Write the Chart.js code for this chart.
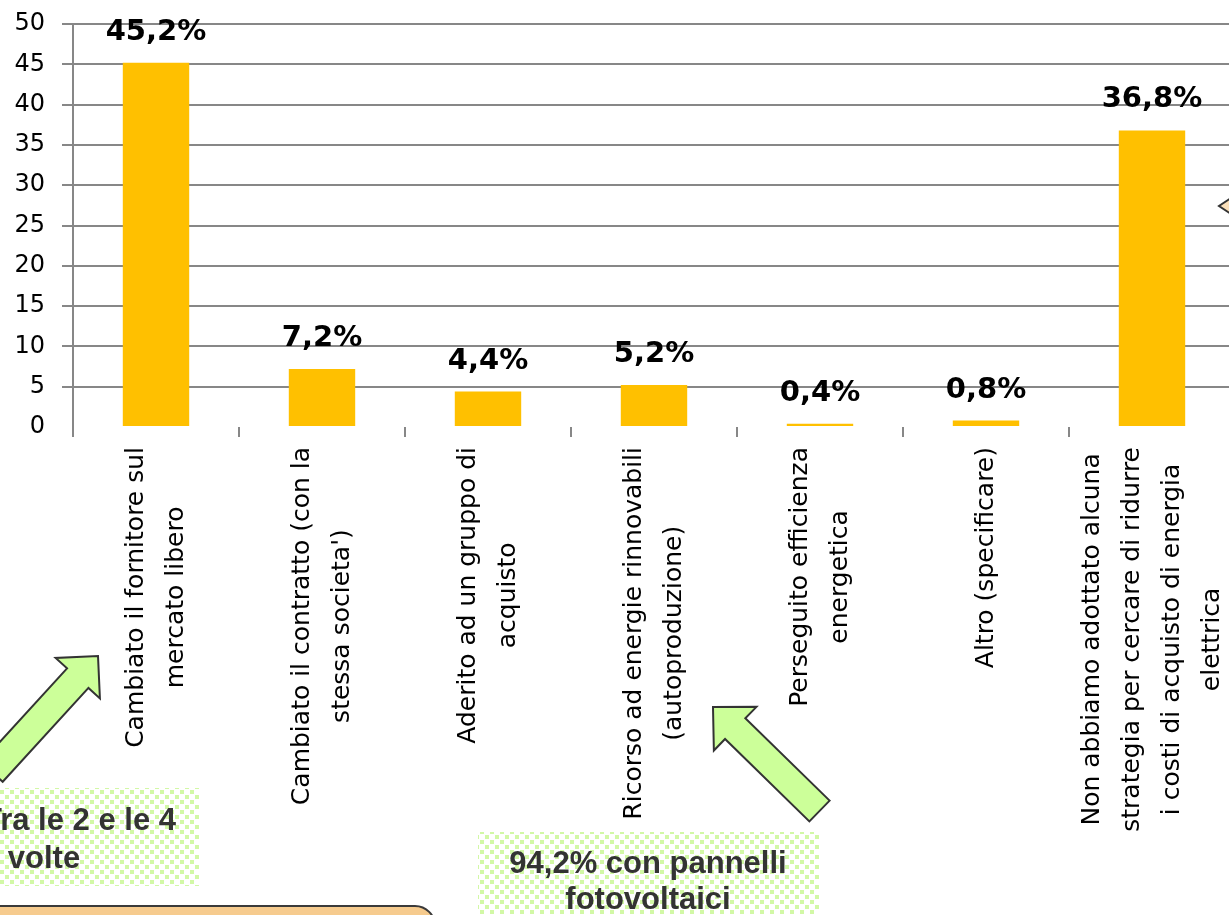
<!DOCTYPE html>
<html>
<head>
<meta charset="utf-8">
<script src="https://cdn.jsdelivr.net/npm/chart.js@4.4.1/dist/chart.umd.min.js"></script>
<style>
  html, body { margin: 0; padding: 0; background: #fff; overflow: hidden; }
  #wrap { width: 1240px; height: 915px; }
</style>
</head>
<body>
<div id="wrap"><canvas id="chart" width="1240" height="915"></canvas></div>
<script>
// Chart data
const categories = [
  ["Cambiato il fornitore sul", "mercato libero"],
  ["Cambiato il contratto (con la", "stessa societa')"],
  ["Aderito ad un gruppo di", "acquisto"],
  ["Ricorso ad energie rinnovabili", "(autoproduzione)"],
  ["Perseguito efficienza", "energetica"],
  ["Altro (specificare)"],
  ["Non abbiamo adottato alcuna", "strategia per cercare di ridurre", "i costi di acquisto di energia", "elettrica"]
];
const values = [45.2, 7.2, 4.4, 5.2, 0.4, 0.8, 36.8];
const yMin = 0, yMax = 50, yStep = 5;

// Callout texts
const noteLeft = ["Tra le 2 e le 4", "volte"];
const noteRight = ["94,2% con pannelli", "fotovoltaici"];

const GRID = '#878787';

function formatPct(v) {
  return v.toFixed(1).replace('.', ',') + '%';
}

// light green dotted fill used by the callout boxes
function makePattern(ctx) {
  const c = document.createElement('canvas');
  c.width = 10; c.height = 10;
  const p = c.getContext('2d');
  p.fillStyle = '#ffffff';
  p.fillRect(0, 0, 10, 10);
  p.fillStyle = '#d2f8a6';
  p.fillRect(0, 0, 4, 4);
  p.fillRect(5, 5, 4, 4);
  return ctx.createPattern(c, 'repeat');
}

function drawArrow(ctx, tail, tip, shaftW, headW, headL) {
  const dx = tip[0] - tail[0], dy = tip[1] - tail[1];
  const len = Math.hypot(dx, dy);
  const ux = dx / len, uy = dy / len;
  const nx = -uy, ny = ux;
  const bx = tip[0] - ux * headL, by = tip[1] - uy * headL;
  const s = shaftW / 2, h = headW / 2;
  ctx.beginPath();
  ctx.moveTo(tail[0] + nx * s, tail[1] + ny * s);
  ctx.lineTo(bx + nx * s, by + ny * s);
  ctx.lineTo(bx + nx * h, by + ny * h);
  ctx.lineTo(tip[0], tip[1]);
  ctx.lineTo(bx - nx * h, by - ny * h);
  ctx.lineTo(bx - nx * s, by - ny * s);
  ctx.lineTo(tail[0] - nx * s, tail[1] - ny * s);
  ctx.closePath();
  ctx.fillStyle = '#ccff99';
  ctx.fill();
  ctx.strokeStyle = '#333333';
  ctx.lineWidth = 2;
  ctx.stroke();
}

// Rotated, centred multi-line category labels
const xLabelsPlugin = {
  id: 'xLabels',
  afterDraw(chart) {
    const ctx = chart.ctx;
    const xs = chart.scales.x;
    const top = chart.chartArea.bottom + 20;
    const lineH = 40;
    ctx.save();
    ctx.font = '25px "DejaVu Sans"';
    ctx.fillStyle = '#000';
    ctx.textAlign = 'center';
    ctx.textBaseline = 'middle';
    categories.forEach((lines, i) => {
      const x = xs.getPixelForValue(i);
      const maxW = Math.max(...lines.map(l => ctx.measureText(l).width));
      const cy = top + maxW / 2;
      lines.forEach((line, j) => {
        const off = (j - (lines.length - 1) / 2) * lineH;
        ctx.save();
        ctx.translate(x + off, cy);
        ctx.rotate(-Math.PI / 2);
        ctx.fillText(line, 0, 0);
        ctx.restore();
      });
    });
    ctx.restore();
  }
};

// Value labels above bars
const valueLabelsPlugin = {
  id: 'valueLabels',
  afterDatasetsDraw(chart) {
    const ctx = chart.ctx;
    const meta = chart.getDatasetMeta(0);
    ctx.save();
    ctx.font = 'bold 29px "DejaVu Sans"';
    ctx.fillStyle = '#000';
    ctx.textAlign = 'center';
    ctx.textBaseline = 'alphabetic';
    meta.data.forEach((bar, i) => {
      ctx.fillText(formatPct(values[i]), bar.x, bar.y - 23);
    });
    ctx.restore();
  }
};

// Callout boxes and arrows around the chart
const notesPlugin = {
  id: 'notes',
  afterDraw(chart) {
    const ctx = chart.ctx;
    const pat = makePattern(ctx);
    ctx.save();

    // left note
    ctx.fillStyle = pat;
    ctx.fillRect(0, 788, 200, 98);
    ctx.fillStyle = '#333333';
    ctx.font = 'bold 31px "Liberation Sans"';
    ctx.textBaseline = 'alphabetic';
    ctx.textAlign = 'right';
    ctx.fillText(noteLeft[0], 176, 830);
    ctx.textAlign = 'center';
    ctx.fillText(noteLeft[1], 44, 868);

    // right note
    ctx.fillStyle = pat;
    ctx.fillRect(478, 832, 341, 90);
    ctx.fillStyle = '#333333';
    ctx.textAlign = 'center';
    ctx.fillText(noteRight[0], 648, 873);
    ctx.fillText(noteRight[1], 648, 909);

    // arrows
    drawArrow(ctx, [-8, 772], [98, 656], 29, 60, 30);
    drawArrow(ctx, [819.5, 811], [713, 707], 29, 61, 31);

    // peach box at the bottom left
    ctx.beginPath();
    ctx.roundRect(-20, 906, 455, 40, 22);
    ctx.fillStyle = '#f6cb8e';
    ctx.fill();
    ctx.strokeStyle = '#3a3a3a';
    ctx.lineWidth = 2;
    ctx.stroke();

    // pointer of a callout on the right edge
    ctx.beginPath();
    ctx.moveTo(1231, 198);
    ctx.lineTo(1219, 206);
    ctx.lineTo(1231, 214);
    ctx.closePath();
    ctx.fillStyle = '#fbe0ba';
    ctx.fill();
    ctx.strokeStyle = '#333333';
    ctx.lineWidth = 2;
    ctx.stroke();

    ctx.restore();
  }
};

new Chart(document.getElementById('chart'), {
  type: 'bar',
  data: {
    labels: categories,
    datasets: [{
      data: values,
      backgroundColor: '#ffc000',
      borderWidth: 0,
      barPercentage: 0.4,
      categoryPercentage: 1.0
    }]
  },
  options: {
    responsive: false,
    animation: false,
    devicePixelRatio: 1,
    layout: { padding: { top: 24, right: 5, left: 0, bottom: 0 } },
    plugins: {
      legend: { display: false },
      title: { display: false },
      tooltip: { enabled: false }
    },
    scales: {
      x: {
        offset: true,
        border: { display: false },
        grid: {
          offset: true,
          drawOnChartArea: false,
          drawTicks: true,
          tickLength: 10,
          color: GRID,
          lineWidth: 2
        },
        ticks: { display: false },
        afterFit(scale) { scale.height = 488; }
      },
      y: {
        min: yMin,
        max: yMax,
        border: { display: true, color: GRID, width: 2 },
        grid: {
          color: c => (c.tick && c.tick.value === 0) ? 'rgba(0,0,0,0)' : GRID,
          lineWidth: 2,
          tickLength: 11
        },
        ticks: {
          stepSize: yStep,
          padding: 17,
          color: '#000',
          font: { family: 'DejaVu Sans', size: 24 }
        },
        afterFit(scale) {
          scale.width = 73;
          scale.paddingTop = 0;
          scale.paddingBottom = 0;
        }
      }
    }
  },
  plugins: [valueLabelsPlugin, xLabelsPlugin, notesPlugin]
});
</script>
</body>
</html>
